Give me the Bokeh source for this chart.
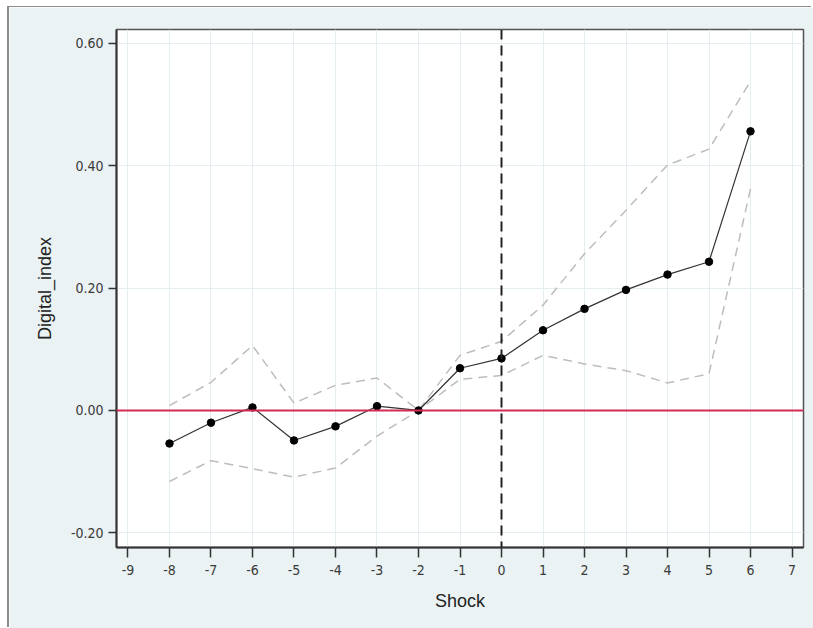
from bokeh.plotting import figure
from bokeh.models import FixedTicker, NumeralTickFormatter, Span, Range1d
from bokeh.embed import file_html
from bokeh.resources import INLINE

shock = [-8, -7, -6, -5, -4, -3, -2, -1, 0, 1, 2, 3, 4, 5, 6]
coef = [-0.054, -0.020, 0.005, -0.049, -0.026, 0.007, 0.0, 0.069, 0.085,
        0.131, 0.166, 0.197, 0.222, 0.243, 0.456]
upper = [0.008, 0.046, 0.106, 0.012, 0.041, 0.053, 0.0, 0.090, 0.113,
         0.172, 0.256, 0.327, 0.401, 0.427, 0.538]
lower = [-0.116, -0.082, -0.095, -0.109, -0.094, -0.042, 0.0, 0.051, 0.057,
         0.090, 0.076, 0.065, 0.045, 0.060, 0.362]
x_ticks = list(range(-9, 8))
y_ticks = [-0.2, 0.0, 0.2, 0.4, 0.6]

BG = "#EAF2F3"
tick_font = "DejaVu Sans Condensed, Liberation Sans"

p = figure(width=804, height=621, output_backend="svg", toolbar_location=None,
           x_range=Range1d(-9.277, 7.277), y_range=Range1d(-0.2239, 0.6224),
           min_border_left=107, min_border_right=10, min_border_top=22,
           min_border_bottom=81)
p.styles = {"margin-left": "9px", "margin-top": "7px",
            "box-shadow": "-2px -1px 0 0 #8c8c8c"}
p.border_fill_color = BG
p.background_fill_color = "white"
p.outline_line_color = "#555555"
p.outline_line_width = 1.5

p.xaxis.ticker = FixedTicker(ticks=x_ticks)
p.yaxis.ticker = FixedTicker(ticks=y_ticks)
p.xaxis.formatter = NumeralTickFormatter(format="0")
p.yaxis.formatter = NumeralTickFormatter(format="0.00")
p.xgrid.grid_line_color = "#E4EEF0"
p.ygrid.grid_line_color = "#E4EEF0"
p.xgrid.grid_line_width = 1
p.ygrid.grid_line_width = 1

for ax in (p.xaxis[0], p.yaxis[0]):
    ax.axis_line_color = "#333333"
    ax.axis_line_width = 2
    ax.major_tick_line_color = "#333333"
    ax.major_tick_line_width = 1.5
    ax.major_tick_in = 0
    ax.minor_tick_line_color = None
    ax.major_label_text_font = tick_font
    ax.major_label_text_font_size = "14px"
    ax.major_label_text_color = "#3a3a3a"
    ax.axis_label_text_font = "Liberation Sans"
    ax.axis_label_text_font_style = "normal"
    ax.axis_label_text_color = "#222222"
    ax.axis_label_text_font_size = "18px"

p.xaxis.axis_label = "Shock"
p.yaxis.axis_label = "Digital_index"
p.xaxis.major_tick_out = 10
p.yaxis.major_tick_out = 8
p.xaxis.major_label_standoff = 7
p.yaxis.major_label_standoff = 5
p.xaxis.axis_label_standoff = 13
p.yaxis.axis_label_standoff = 13

ci_kw = dict(line_color="#BDBDBD", line_width=1.5, line_dash="9 6")
p.line(shock, upper, **ci_kw)
p.line(shock, lower, **ci_kw)

p.add_layout(Span(location=0, dimension="width", line_color="#D42A55", line_width=2))
p.add_layout(Span(location=0, dimension="height", line_color="#222222",
                  line_width=2, line_dash="10 6"))

p.line(shock, coef, line_color="#333333", line_width=1.2)
p.scatter(shock, coef, size=7.5, fill_color="black", line_color="black")

open("out.html", "w").write(file_html(p, INLINE))
